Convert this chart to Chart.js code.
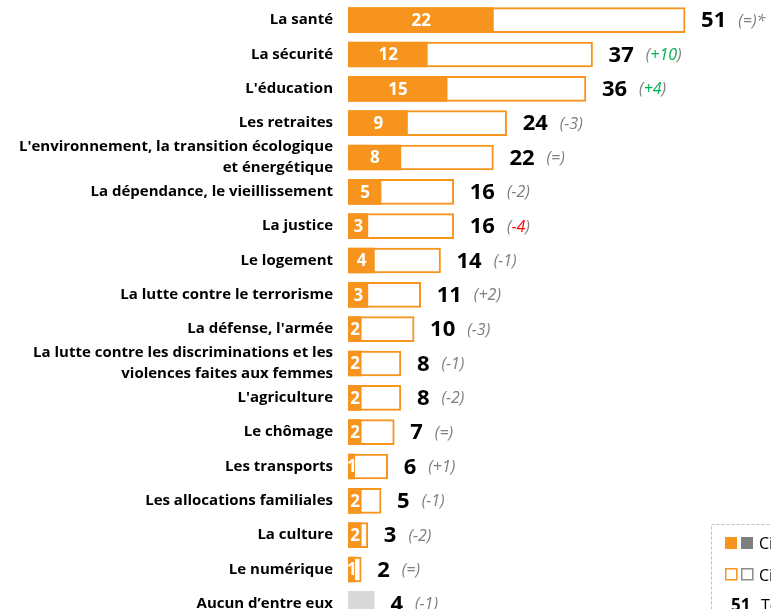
<!DOCTYPE html>
<html lang="fr">
<head>
<meta charset="utf-8">
<title>Priorités</title>
<script src="https://cdn.jsdelivr.net/npm/chart.js@4.4.1/dist/chart.umd.min.js"></script>
<style>
  html, body { margin: 0; padding: 0; background: #fff; overflow: hidden; }
  #wrap { position: relative; width: 771px; height: 609px; overflow: hidden; }
  #chart { position: absolute; left: 0; top: -27px; }
</style>
</head>
<body>
<div id="wrap"><canvas id="chart" width="771" height="678"></canvas></div>
<script>
const categories = [
    "La santé",
    "La sécurité",
    "L'éducation",
    "Les retraites",
    ["L'environnement, la transition écologique", "et énergétique"],
    "La dépendance, le vieillissement",
    "La justice",
    "Le logement",
    "La lutte contre le terrorisme",
    "La défense, l'armée",
    ["La lutte contre les discriminations et les", "violences faites aux femmes"],
    "L'agriculture",
    "Le chômage",
    "Les transports",
    "Les allocations familiales",
    "La culture",
    "Le numérique",
    "Aucun d’entre eux"
];

const firstChoice = [22, 12, 15, 9, 8, 5, 3, 4, 3, 2, 2, 2, 2, 1, 2, 2, 1, null];
const totals = [51, 37, 36, 24, 22, 16, 16, 14, 11, 10, 8, 8, 7, 6, 5, 3, 2, 4];
const changes = ["=", "+10", "+4", "-3", "=", "-2", "-4", "-1", "+2", "-3", "-1", "-2", "=", "+1", "-1", "-2", "=", "-1"];
const changeNotes = ["*", "", "", "", "", "", "", "", "", "", "", "", "", "", "", "", "", ""];
const changeColors = ["grey", "green", "green", "grey", "grey", "grey", "red", "grey", "grey", "grey", "grey", "grey", "grey", "grey", "grey", "grey", "grey", "grey"];

const legendItems = ["Citée en premier", "Citée au total", "Total des citations"];

const ORANGE = "#F7941D";
const GREY = "#7F7F7F";
const LIGHT_GREY = "#D9D9D9";
const colorMap = { grey: "#7F7F7F", green: "#00B050", red: "#FF0000" };

const FONT = "'Open Sans', 'DejaVu Sans', sans-serif";

// canvas is shifted up by this much so the axis padding stays out of view
const SHIFT = 27;

/* Value labels */

const valueLabels = {
    id: "valueLabels",
    afterDatasetsDraw(chart) {
        const ctx = chart.ctx;
        const xScale = chart.scales.x;
        const firstMeta = chart.getDatasetMeta(0);
        const totalMeta = chart.getDatasetMeta(1);

        ctx.save();
        ctx.textBaseline = "middle";

        totals.forEach((total, i) => {
            const y = totalMeta.data[i].y + 1;

            if (firstChoice[i] !== null) {
                const fb = firstMeta.data[i];
                ctx.font = `bold 17px ${FONT}`;
                ctx.fillStyle = "#fff";
                ctx.textAlign = "center";
                ctx.fillText(firstChoice[i], (fb.base + fb.x) / 2 + 0.5, y);
            }

            let tx = xScale.getPixelForValue(total) + 16;
            ctx.textAlign = "left";
            ctx.font = `bold 22px ${FONT}`;
            ctx.fillStyle = "#000";
            ctx.fillText(total, tx, y);
            tx += ctx.measureText(String(total)).width + 12;

            ctx.font = `italic 16px ${FONT}`;
            const parts = [
                ["(", GREY],
                [changes[i], colorMap[changeColors[i]]],
                [")" + changeNotes[i], GREY]
            ];
            parts.forEach(([text, color]) => {
                ctx.fillStyle = color;
                ctx.fillText(text, tx, y);
                tx += ctx.measureText(text).width;
            });
        });

        ctx.restore();
    },
    afterDraw(chart) {
        const ctx = chart.ctx;
        ctx.save();
        ctx.translate(0, SHIFT);

        // dashed legend box
        ctx.setLineDash([3, 2]);
        ctx.strokeStyle = "#BFBFBF";
        ctx.lineWidth = 1;
        ctx.strokeRect(711.5, 524.5, 220, 120);
        ctx.setLineDash([]);

        ctx.fillStyle = ORANGE;
        ctx.fillRect(725, 537, 12, 12);
        ctx.fillStyle = GREY;
        ctx.fillRect(741, 537, 12, 12);

        ctx.lineWidth = 1.5;
        ctx.strokeStyle = ORANGE;
        ctx.strokeRect(725.75, 568.75, 11, 11);
        ctx.strokeStyle = "#8C8C8C";
        ctx.strokeRect(741.75, 568.75, 11, 11);

        ctx.textBaseline = "middle";
        ctx.textAlign = "left";
        ctx.fillStyle = "#000";
        ctx.font = `16px ${FONT}`;
        ctx.fillText(legendItems[0], 759, 544);
        ctx.fillText(legendItems[1], 759, 576);
        ctx.fillText(legendItems[2], 761, 606);
        ctx.font = `bold 17px ${FONT}`;
        ctx.fillText("51", 731, 606);

        ctx.restore();
    }
};

/* Chart */

new Chart(document.querySelector("#chart"), {
    type: "bar",
    data: {
        labels: categories,
        datasets: [
            {
                label: "Citée en premier",
                data: firstChoice,
                backgroundColor: ORANGE,
                borderWidth: 0,
                barThickness: 25
            },
            {
                label: "Citée au total",
                data: totals,
                backgroundColor: totals.map((v, i) => i === totals.length - 1 ? LIGHT_GREY : "#fff"),
                borderColor: totals.map((v, i) => i === totals.length - 1 ? LIGHT_GREY : ORANGE),
                borderWidth: 2,
                borderSkipped: false,
                barThickness: 25
            }
        ]
    },
    options: {
        indexAxis: "y",
        responsive: false,
        animation: false,
        layout: {
            padding: { top: 30, right: 0, bottom: 30, left: 0 }
        },
        plugins: {
            legend: { display: false },
            tooltip: { enabled: false }
        },
        scales: {
            x: {
                display: false,
                min: 0,
                max: 64
            },
            y: {
                stacked: true,
                afterFit(scale) {
                    scale.width = 348;
                },
                grid: { display: false, drawTicks: false },
                border: { display: false },
                ticks: {
                    color: "#000",
                    padding: 15,
                    autoSkip: false,
                    font: { family: FONT, size: 15, weight: "bold", lineHeight: 1.4 }
                }
            }
        }
    },
    plugins: [valueLabels]
});
</script>
</body>
</html>
